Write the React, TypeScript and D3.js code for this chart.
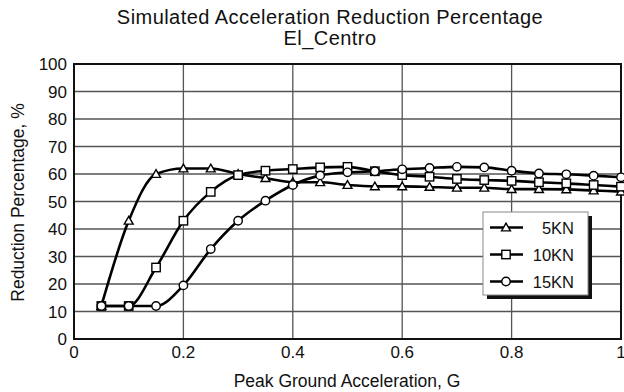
import React from "react";
import * as d3 from "d3";

const pga = [0.05, 0.1, 0.15, 0.2, 0.25, 0.3, 0.35, 0.4, 0.45, 0.5, 0.55, 0.6, 0.65, 0.7, 0.75, 0.8, 0.85, 0.9, 0.95, 1.0];
const kn5 = [12, 43, 60, 62, 62, 60, 58.5, 57, 57, 56, 55.5, 55.5, 55.3, 55, 55, 54.5, 54.5, 54.4, 54, 53.6];
const kn10 = [12, 12, 26, 43, 53.5, 59.6, 61.2, 61.8, 62.4, 62.6, 61, 59.6, 59, 58.2, 57.8, 57.5, 57, 56.6, 56, 55.4];
const kn15 = [12, 12, 12, 19.5, 32.7, 43, 50.3, 56, 59.5, 60.6, 61, 61.7, 62.2, 62.6, 62.4, 61.2, 60.2, 59.9, 59.4, 58.8];
const seriesNames = ["5KN", "10KN", "15KN"];
const xTicks = [0, 0.2, 0.4, 0.6, 0.8, 1];
const xTickLabels = ["0", "0.2", "0.4", "0.6", "0.8", "1"];
const yTicks = [0, 10, 20, 30, 40, 50, 60, 70, 80, 90, 100];

const W = 624;
const H = 392;
const left = 74;
const right = 621;
const top = 64;
const bottom = 339;
const font = "'Liberation Sans', Arial, sans-serif";

type Shape = "triangle" | "square" | "circle";

function Marker({ x, y, shape }: { x: number; y: number; shape: Shape }) {
  const common = { fill: "#fff", stroke: "#000", strokeWidth: 1.4 };
  if (shape === "circle") return <circle cx={x} cy={y} r={4.2} {...common} />;
  if (shape === "square") return <rect x={x - 4.2} y={y - 4.2} width={8.4} height={8.4} {...common} />;
  const s = d3.symbol().type(d3.symbolTriangle).size(34)();
  return <path d={s || ""} transform={`translate(${x},${y + 0.8})`} {...common} />;
}

export default function App() {
  const x = d3.scaleLinear().domain([0, 1]).range([left, right]);
  const y = d3.scaleLinear().domain([0, 100]).range([bottom, top]);
  const line = d3
    .line<[number, number]>()
    .x((d) => x(d[0]))
    .y((d) => y(d[1]))
    .curve(d3.curveMonotoneX);

  const series: { name: string; values: number[]; shape: Shape }[] = [
    { name: seriesNames[0], values: kn5, shape: "triangle" },
    { name: seriesNames[1], values: kn10, shape: "square" },
    { name: seriesNames[2], values: kn15, shape: "circle" },
  ];

  const legX = 483;
  const legY = 212;
  const legW = 105;
  const legH = 83;
  const rowYs = [227.5, 254.5, 281.5];

  return (
    <svg width={W} height={H} style={{ position: "absolute", left: 0, top: 0, background: "#fff" }} fontFamily={font}>
      <rect width={W} height={H} fill="#fff" />
      <text x={330} y={24} textAnchor="middle" fontSize={20} letterSpacing={0.45} fill="#111">
        Simulated Acceleration Reduction Percentage
      </text>
      <text x={330} y={45} textAnchor="middle" fontSize={20} letterSpacing={0.45} fill="#111">
        El_Centro
      </text>

      {/* grid */}
      {yTicks.map((t) => (
        <line key={"gy" + t} x1={left} x2={right} y1={y(t)} y2={y(t)} stroke="#555" strokeWidth={1.3} />
      ))}
      {xTicks.map((t) => (
        <line key={"gx" + t} x1={x(t)} x2={x(t)} y1={top} y2={bottom} stroke="#555" strokeWidth={1.3} />
      ))}
      <rect x={left} y={top} width={right - left} height={bottom - top} fill="none" stroke="#111" strokeWidth={2} />

      {/* tick labels */}
      {yTicks.map((t) => (
        <text key={"ly" + t} x={67} y={y(t) + 6} textAnchor="end" fontSize={17} fill="#111">
          {t}
        </text>
      ))}
      {xTicks.map((t, i) => (
        <text key={"lx" + t} x={x(t)} y={358} textAnchor="middle" fontSize={17} fill="#111">
          {xTickLabels[i]}
        </text>
      ))}

      <text x={347} y={387} textAnchor="middle" fontSize={17.5} fill="#111">
        Peak Ground Acceleration, G
      </text>
      <text transform={`translate(24,${(top + bottom) / 2 + 1}) rotate(-90)`} textAnchor="middle" fontSize={17.5} fill="#111">
        Reduction Percentage, %
      </text>

      {/* series */}
      {series.map((s) => {
        const pts = pga.map((p, i) => [p, s.values[i]] as [number, number]);
        return (
          <g key={s.name}>
            <path d={line(pts) || ""} fill="none" stroke="#000" strokeWidth={2.6} />
            {pts.map((p, i) => (
              <Marker key={i} x={x(p[0])} y={y(p[1])} shape={s.shape} />
            ))}
          </g>
        );
      })}

      {/* legend */}
      <rect x={legX + 4} y={legY + 4} width={legW} height={legH} fill="#111" />
      <rect x={legX} y={legY} width={legW} height={legH} fill="#fff" stroke="#888" strokeWidth={1} />
      {series.map((s, i) => (
        <g key={"leg" + s.name}>
          <line x1={490} x2={523} y1={rowYs[i]} y2={rowYs[i]} stroke="#000" strokeWidth={2.6} />
          <Marker x={506} y={rowYs[i]} shape={s.shape} />
          <text x={574} y={rowYs[i] + 6} textAnchor="end" fontSize={16.5} fill="#111">
            {s.name}
          </text>
        </g>
      ))}
    </svg>
  );
}
